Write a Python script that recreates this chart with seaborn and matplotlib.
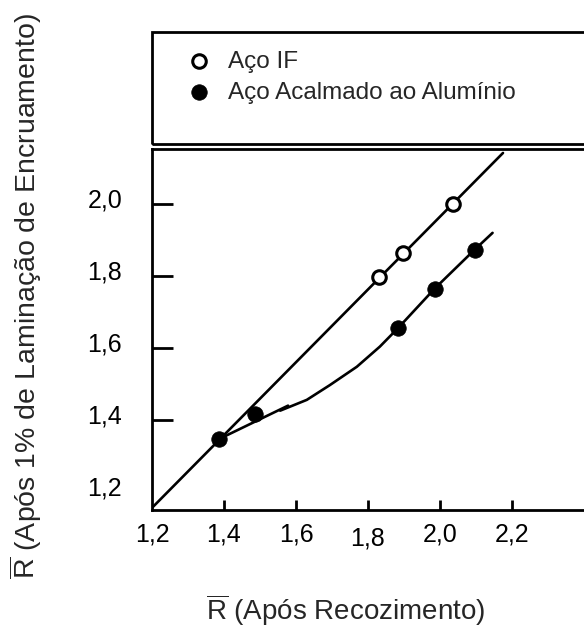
import matplotlib
matplotlib.use("Agg")
import matplotlib.pyplot as plt
import matplotlib.transforms as mtransforms
from matplotlib.patches import Rectangle
import seaborn as sns

# ---- data ----
if_x = [1.831, 1.898, 2.035]
if_y = [1.796, 1.865, 2.000]
al_x = [1.386, 1.486, 1.884, 1.986, 2.097]
al_y = [1.347, 1.417, 1.656, 1.765, 1.873]

diag_x = [1.200, 2.175]
diag_y = [1.156, 2.142]

al_seg_x = [1.386, 1.578]
al_seg_y = [1.347, 1.440]
al_curve_x = [1.556, 1.630, 1.694, 1.769, 1.833, 1.884, 1.986, 2.097, 2.146]
al_curve_y = [1.426, 1.456, 1.497, 1.548, 1.604, 1.656, 1.766, 1.874, 1.920]

xticks = [1.2, 1.4, 1.6, 1.8, 2.0, 2.2]
yticks = [1.2, 1.4, 1.6, 1.8, 2.0]
xticklabels = ["1,2", "1,4", "1,6", "1,8", "2,0", "2,2"]
yticklabels = ["1,2", "1,4", "1,6", "1,8", "2,0"]

label_if = "Aço IF"
label_al = "Aço Acalmado ao Alumínio"
xlabel = r"$\overline{\mathrm{R}}$ (Após Recozimento)"
ylabel = r"$\overline{\mathrm{R}}$ (Após 1% de Laminação de Encruamento)"

# ---- style ----
sns.set_style("white")
plt.rcParams["font.family"] = ["Liberation Sans", "DejaVu Sans"]
plt.rcParams["mathtext.fontset"] = "custom"
plt.rcParams["mathtext.rm"] = "Liberation Sans"
plt.rcParams["mathtext.it"] = "Liberation Sans:italic"
plt.rcParams["mathtext.bf"] = "Liberation Sans:bold"

W, H = 584, 628
fig = plt.figure(figsize=(W / 100, H / 100), dpi=100)
ax = fig.add_axes([152 / W, 1 - 510 / H, 432 / W, 361 / H])

lw = 1.9
sns.lineplot(x=diag_x, y=diag_y, sort=False, estimator=None, color="black", lw=lw, ax=ax)
sns.lineplot(x=al_seg_x, y=al_seg_y, sort=False, estimator=None, color="black", lw=lw, ax=ax)
sns.lineplot(x=al_curve_x, y=al_curve_y, sort=False, estimator=None, color="black", lw=lw, ax=ax)

sns.scatterplot(x=if_x, y=if_y, marker="o", s=95, color="white", edgecolor="black",
                linewidth=2.2, zorder=5, label=label_if, ax=ax)
sns.scatterplot(x=al_x, y=al_y, marker="o", s=125, color="black", edgecolor="black",
                linewidth=0.5, zorder=5, label=label_al, ax=ax)

if ax.get_legend() is not None:
    ax.get_legend().remove()

ax.set_xlim(1.2, 2.4)
ax.set_ylim(1.15, 2.153)
ax.set_xticks(xticks)
ax.set_xticklabels(xticklabels)
ax.set_yticks(yticks)
ax.set_yticklabels(yticklabels)
ax.set_xlabel("")
ax.set_ylabel("")

for side in ["left", "bottom", "top"]:
    ax.spines[side].set_visible(True)
    ax.spines[side].set_linewidth(2.0)
    ax.spines[side].set_color("black")
ax.spines["right"].set_visible(False)

ax.tick_params(axis="y", direction="in", length=15, width=2.0, pad=21.5,
               labelsize=18, colors="black", left=True)
ax.tick_params(axis="x", direction="in", length=7.5, width=2.0, pad=9,
               labelsize=18, colors="black", bottom=True)

ax.yaxis.get_major_ticks()[0].tick1line.set_visible(False)
ax.xaxis.get_major_ticks()[0].tick1line.set_visible(False)

for lab in ax.get_yticklabels():
    lab.set_transform(lab.get_transform() +
                      mtransforms.ScaledTranslation(0, 6 / 100, fig.dpi_scale_trans))
xl = ax.get_xticklabels()
xl[3].set_transform(xl[3].get_transform() +
                    mtransforms.ScaledTranslation(0, -4 / 100, fig.dpi_scale_trans))

# axis labels
fig.text(206 / W, 1 - 620 / H, xlabel, fontsize=20, ha="left", va="baseline",
         rotation_mode="anchor")
fig.text(36.5 / W, 1 - 13 / H, ylabel, fontsize=20.5, rotation=90, rotation_mode="anchor",
         ha="right", va="baseline")

# legend box
fig.add_artist(Rectangle((152 / W, 1 - 144 / H), 1.0, 112 / H, transform=fig.transFigure,
                         fill=False, edgecolor="black", lw=2.0, clip_on=False))
handles, labels = ax.get_legend_handles_labels()
keep = [(h, l) for h, l in zip(handles, labels) if l in (label_if, label_al)]
fig.legend([k[0] for k in keep], [k[1] for k in keep], loc="upper left",
           bbox_to_anchor=(186.85 / W, 1 - 50.5 / H), frameon=False, borderaxespad=0,
           borderpad=0, handlelength=1.0, handletextpad=0.69, labelspacing=0.37,
           fontsize=17.5)

fig.savefig("out.png", dpi=100)
